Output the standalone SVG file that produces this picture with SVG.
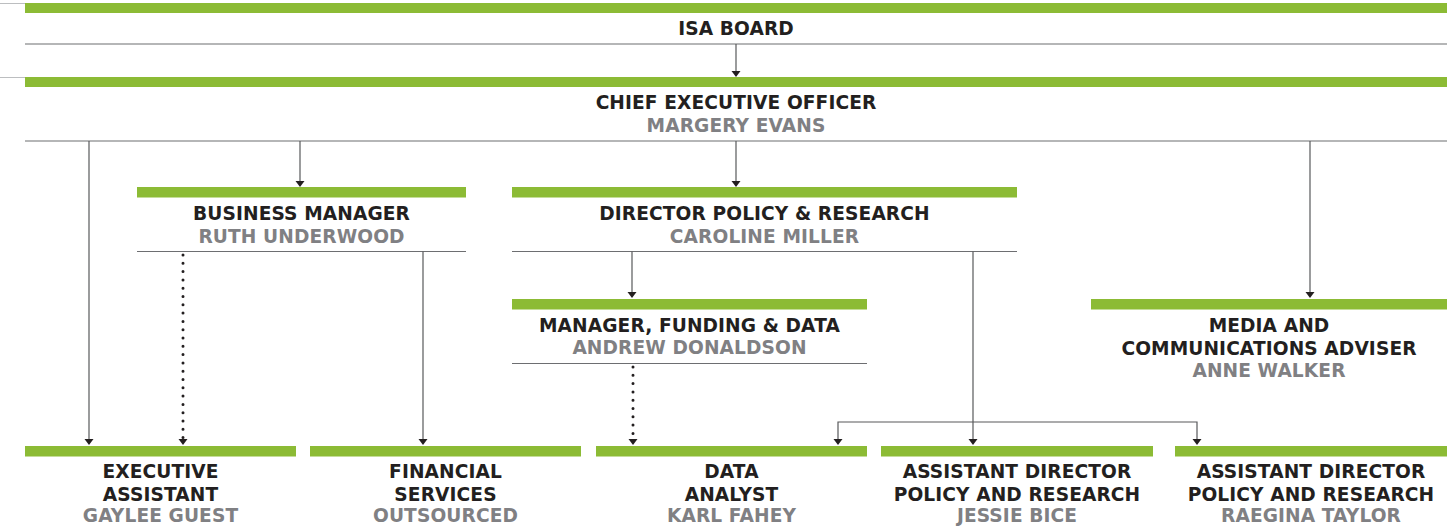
<svg xmlns="http://www.w3.org/2000/svg" width="1456" height="532" viewBox="0 0 1456 532">
<style>
.bar{fill:#8cbb35}
.rule{stroke:#6d6e71;stroke-width:1.2;fill:none}
.thin{stroke:#bcbec0;stroke-width:1;fill:none}
.t{font-family:"DejaVu Sans","Open Sans",sans-serif;font-weight:700;font-size:18.6px;letter-spacing:0.1px;text-anchor:middle;fill:#231f20}
.n{fill:#808083}
.c{stroke:#58595b;stroke-width:1.2;fill:none}
.d{stroke:#231f20;stroke-width:3;stroke-linecap:round;stroke-dasharray:0 8.3;fill:none}
</style>
<defs>
<polygon id="tri" points="-4.5,-6 4.5,-6 0,0" fill="#231f20"/>
</defs>
<g id="board">
<line class="thin" x1="0" y1="3.5" x2="25" y2="3.5"/>
<rect class="bar" x="25" y="3" width="1422" height="10"/>
<text class="t" x="736" y="35">ISA BOARD</text>
<line class="rule" x1="25" y1="44" x2="1447" y2="44"/>
</g>
<g id="ceo">
<line class="thin" x1="0" y1="77.5" x2="25" y2="77.5"/>
<rect class="bar" x="25" y="77" width="1422" height="10"/>
<text class="t" x="736" y="109">CHIEF EXECUTIVE OFFICER</text>
<text class="t n" x="736" y="132">MARGERY EVANS</text>
<line class="rule" x1="25" y1="141" x2="1447" y2="141"/>
</g>
<g id="business-manager">
<rect class="bar" x="137" y="187" width="329" height="10.5"/>
<text class="t" x="301.5" y="220">BUSINESS MANAGER</text>
<text class="t n" x="301.5" y="243">RUTH UNDERWOOD</text>
<line class="rule" x1="137" y1="251.5" x2="466" y2="251.5"/>
</g>
<g id="director">
<rect class="bar" x="512" y="187" width="505" height="10.5"/>
<text class="t" x="764.5" y="220">DIRECTOR POLICY &amp; RESEARCH</text>
<text class="t n" x="764.5" y="243">CAROLINE MILLER</text>
<line class="rule" x1="512" y1="251.5" x2="1017" y2="251.5"/>
</g>
<g id="manager-funding">
<rect class="bar" x="512" y="299" width="355" height="10.5"/>
<text class="t" x="689.5" y="331.5">MANAGER, FUNDING &amp; DATA</text>
<text class="t n" x="689.5" y="353.5">ANDREW DONALDSON</text>
<line class="rule" x1="512" y1="363.5" x2="867" y2="363.5"/>
</g>
<g id="media">
<rect class="bar" x="1091" y="299" width="356" height="10.5"/>
<text class="t" x="1269" y="331.5">MEDIA AND</text>
<text class="t" x="1269" y="354.5">COMMUNICATIONS ADVISER</text>
<text class="t n" x="1269" y="377">ANNE WALKER</text>
</g>
<g id="executive-assistant">
<rect class="bar" x="25" y="446" width="271" height="10.5"/>
<text class="t" x="160.5" y="478">EXECUTIVE</text>
<text class="t" x="160.5" y="500.5">ASSISTANT</text>
<text class="t n" x="160.5" y="522">GAYLEE GUEST</text>
</g>
<g id="financial-services">
<rect class="bar" x="310" y="446" width="271" height="10.5"/>
<text class="t" x="445.5" y="478">FINANCIAL</text>
<text class="t" x="445.5" y="500.5">SERVICES</text>
<text class="t n" x="445.5" y="522">OUTSOURCED</text>
</g>
<g id="data-analyst">
<rect class="bar" x="596" y="446" width="271" height="10.5"/>
<text class="t" x="731.5" y="478">DATA</text>
<text class="t" x="731.5" y="500.5">ANALYST</text>
<text class="t n" x="731.5" y="522">KARL FAHEY</text>
</g>
<g id="assistant-director-1">
<rect class="bar" x="881" y="446" width="272" height="10.5"/>
<text class="t" x="1017" y="478">ASSISTANT DIRECTOR</text>
<text class="t" x="1017" y="500.5">POLICY AND RESEARCH</text>
<text class="t n" x="1017" y="522">JESSIE BICE</text>
</g>
<g id="assistant-director-2">
<rect class="bar" x="1175" y="446" width="272" height="10.5"/>
<text class="t" x="1311" y="478">ASSISTANT DIRECTOR</text>
<text class="t" x="1311" y="500.5">POLICY AND RESEARCH</text>
<text class="t n" x="1311" y="522">RAEGINA TAYLOR</text>
</g>
<g id="connectors">
<line class="c" x1="736" y1="44" x2="736" y2="72"/>
<use href="#tri" x="736" y="77"/>
<line class="c" x1="89" y1="141" x2="89" y2="440"/>
<use href="#tri" x="89" y="445"/>
<line class="c" x1="300" y1="141" x2="300" y2="182"/>
<use href="#tri" x="300" y="187"/>
<line class="c" x1="736" y1="141" x2="736" y2="182"/>
<use href="#tri" x="736" y="187"/>
<line class="c" x1="1310" y1="141" x2="1310" y2="293"/>
<use href="#tri" x="1310" y="298"/>
<line class="d" x1="183" y1="255" x2="183" y2="438"/>
<use href="#tri" x="183" y="445"/>
<line class="c" x1="423" y1="251.5" x2="423" y2="440"/>
<use href="#tri" x="423" y="445"/>
<line class="c" x1="632" y1="251.5" x2="632" y2="293"/>
<use href="#tri" x="632" y="298"/>
<line class="c" x1="973" y1="251.5" x2="973" y2="440"/>
<use href="#tri" x="973" y="445"/>
<polyline class="c" points="838,440 838,422 1197,422 1197,440"/>
<use href="#tri" x="838" y="445"/>
<use href="#tri" x="1197" y="445"/>
<line class="d" x1="633" y1="367" x2="633" y2="438"/>
<use href="#tri" x="633" y="445"/>
</g>
</svg>
